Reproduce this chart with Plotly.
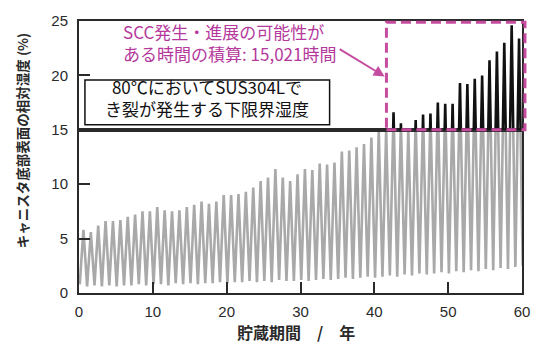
import plotly.graph_objects as go

# Relative humidity at the canister bottom surface (%), one cycle per storage year.
# Annual maxima (year k, reached around mid-year) and annual minima (start of each year).
peak_rh = [
    5.8, 5.6, 6.2, 6.6, 6.6, 6.7, 7.0, 7.2, 7.5, 7.5,
    7.9, 7.6, 7.5, 7.6, 7.9, 8.1, 8.4, 8.2, 8.4, 9.0,
    9.0, 9.1, 9.3, 9.7, 10.3, 10.6, 11.4, 10.6, 10.3, 10.9,
    11.4, 11.3, 11.9, 11.8, 12.0, 13.0, 13.1, 13.4, 13.7, 14.3,
    14.9, 14.95, 16.6, 15.6, 14.95, 15.9, 16.4, 16.5, 17.5, 17.4,
    17.4, 19.3, 19.2, 19.7, 20.0, 21.4, 22.2, 23.0, 24.6, 23.4,
]
trough_rh = [
    0.8, 0.6, 0.7, 0.6, 0.7, 0.6, 0.7, 0.7, 0.8, 0.7,
    0.8, 0.8, 0.7, 0.9, 0.8, 0.9, 0.8, 0.9, 0.9, 1.0,
    0.9, 1.0, 1.0, 1.1, 1.0, 1.1, 1.0, 1.2, 1.1, 1.1,
    1.2, 1.1, 1.2, 1.3, 1.2, 1.3, 1.4, 1.3, 1.4, 1.5,
    1.4, 1.5, 1.6, 1.5, 1.7, 1.6, 1.8, 1.7, 1.8, 1.9,
    1.8, 2.0, 1.9, 2.1, 2.0, 2.2, 2.1, 2.3, 2.2, 2.4,
    2.5,
]
PEAK_PHASE = 0.6    # fraction of the year at which the maximum occurs
TROUGH_PHASE = 0.1  # fraction of the year at which the minimum occurs

x_ticks = [0, 10, 20, 30, 40, 50, 60]
y_ticks_low = [0, 5, 10, 15]
y_ticks_high = [20, 25]
RH_LIMIT = 15  # lower-limit humidity for cracking of SUS304L at 80 °C

# Build the annual humidity cycle: minimum -> maximum -> minimum ...
years, rh = [], []
for k, lo in enumerate(trough_rh):
    years.append(k + TROUGH_PHASE)
    rh.append(lo)
    if k < len(peak_rh):
        years.append(k + PEAK_PHASE)
        rh.append(peak_rh[k])

GREY = "#a9a9a9"
AXIS = "#2a2a2a"
MAGENTA = "#c64ca0"
MAGENTA_TXT = "#b5399c"
JP = "Noto Sans CJK JP"

fig = go.Figure()
# Lower panel (0-15 %) shows the curve in grey, upper panel (15-25 %) in black;
# each panel clips the same series to its own range.
fig.add_trace(go.Scatter(x=years, y=rh, mode="lines", xaxis="x", yaxis="y",
                         line=dict(color=GREY, width=2.6), hoverinfo="skip",
                         showlegend=False))
fig.add_trace(go.Scatter(x=years, y=rh, mode="lines", xaxis="x2", yaxis="y2",
                         line=dict(color="#111111", width=2.6), hoverinfo="skip",
                         showlegend=False))

split = RH_LIMIT / 25.0
tickfont = dict(family="Liberation Sans, Arial", size=15, color=AXIS)
common_axis = dict(showline=True, linecolor=AXIS, linewidth=2, mirror=True,
                   showgrid=False, zeroline=False)

fig.update_layout(
    width=542, height=351,
    margin=dict(l=79, r=14, t=16, b=58),
    paper_bgcolor="white", plot_bgcolor="white",
    xaxis=dict(domain=[0, 1], range=[0, 60], anchor="y", tickvals=x_ticks,
               ticks="inside", ticklen=11, tickwidth=2, tickcolor=AXIS,
               tickfont=tickfont, ticklabelstandoff=4, **common_axis),
    xaxis2=dict(domain=[0, 1], range=[0, 60], anchor="y2", matches="x",
                showticklabels=False, ticks="", **common_axis),
    yaxis=dict(domain=[0, split], range=[0, RH_LIMIT], anchor="x",
               tickvals=y_ticks_low, ticks="inside", ticklen=11, tickwidth=2,
               tickcolor=AXIS, tickfont=tickfont, ticklabelstandoff=6,
               **common_axis),
    yaxis2=dict(domain=[split, 1], range=[RH_LIMIT, 25], anchor="x2",
                tickvals=y_ticks_high, ticks="inside", ticklen=11, tickwidth=2,
                tickcolor=AXIS, tickfont=tickfont, ticklabelstandoff=6,
                **common_axis),
)

# Box around the lower-limit humidity label
fig.add_shape(type="rect", xref="paper", yref="paper",
              x0=0.0134, x1=0.5657, y0=0.619, y1=0.7834,
              fillcolor="white", line=dict(color="#111111", width=1.5),
              layer="above")
# Dashed frame marking the period above the limit
fig.add_shape(type="rect", xref="paper", yref="paper",
              x0=0.694, x1=1.0067, y0=split, y1=0.995,
              line=dict(color=MAGENTA, width=3, dash="10px,5px"),
              layer="above")

fig.add_annotation(xref="paper", yref="paper", x=0.2895, y=0.719,
                   xanchor="center", yanchor="middle",
                   text="80℃においてSUS304Lで<br>き裂が発生する下限界湿度",
                   showarrow=False, align="center",
                   font=dict(family=JP, size=17, color="#111111"))
fig.add_annotation(xref="paper", yref="paper", x=0.0958, y=0.92,
                   xanchor="left", yanchor="middle", align="left",
                   text="SCC発生・進展の可能性が<br>ある時間の積算: 15,021時間",
                   showarrow=False,
                   font=dict(family=JP, size=17, color=MAGENTA_TXT))
fig.add_annotation(xref="x2", yref="y2", x=41.4, y=19.9,
                   axref="x2", ayref="y2", ax=35.1, ay=22.5,
                   text="", showarrow=True, arrowhead=2, arrowsize=1.1,
                   arrowwidth=2, arrowcolor=MAGENTA, standoff=0)

# Axis titles
fig.add_annotation(xref="paper", yref="paper", x=-0.127, y=0.561,
                   xanchor="center", yanchor="middle",
                   text="キャニスタ底部表面の相対湿度 (%)", textangle=-90,
                   showarrow=False,
                   font=dict(family=JP, size=13.5, color=AXIS, weight="bold"))
fig.add_annotation(xref="paper", yref="paper", x=0.49, y=-0.144,
                   xanchor="center", yanchor="middle",
                   text="貯蔵期間\u3000/\u3000年", showarrow=False,
                   font=dict(family=JP, size=16, color=AXIS, weight="bold"))

fig.write_html("out.html")
